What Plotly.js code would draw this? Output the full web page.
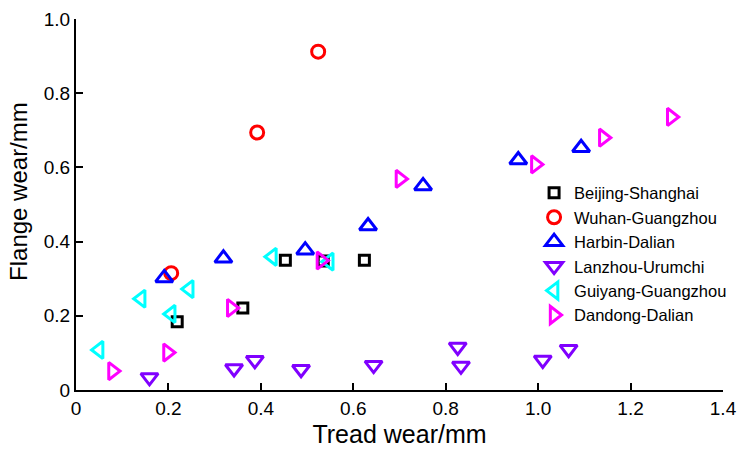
<!DOCTYPE html>
<html>
<head>
<meta charset="utf-8">
<script src="https://cdn.plot.ly/plotly-3.0.1.min.js"></script>
<style>html,body{margin:0;padding:0;background:#fff;}#chart{width:749px;height:449px;}</style>
</head>
<body>
<div id="chart"></div>
<script>
// Data
const beijingX = [0.219, 0.361, 0.453, 0.535, 0.624];
const beijingY = [0.184, 0.221, 0.350, 0.348, 0.350];
const wuhanX = [0.206, 0.392, 0.524];
const wuhanY = [0.315, 0.694, 0.912];
const harbinX = [0.191, 0.319, 0.496, 0.632, 0.751, 0.957, 1.093];
const harbinY = [0.302, 0.355, 0.377, 0.442, 0.550, 0.620, 0.653];
const lanzhouX = [0.159, 0.342, 0.387, 0.487, 0.644, 0.826, 0.833, 1.010, 1.066];
const lanzhouY = [0.034, 0.058, 0.080, 0.056, 0.067, 0.116, 0.065, 0.081, 0.110];
const guiyangX = [0.050, 0.141, 0.206, 0.245, 0.425, 0.548];
const guiyangY = [0.108, 0.246, 0.205, 0.272, 0.359, 0.346];
const dandongX = [0.079, 0.198, 0.336, 0.530, 0.701, 0.994, 1.141, 1.288];
const dandongY = [0.051, 0.101, 0.221, 0.349, 0.569, 0.608, 0.680, 0.736];

const xTicks = [0, 0.2, 0.4, 0.6, 0.8, 1.0, 1.2, 1.4];
const xTickText = ["0", "0.2", "0.4", "0.6", "0.8", "1.0", "1.2", "1.4"];
const yTicks = [0, 0.2, 0.4, 0.6, 0.8, 1.0];
const yTickText = ["0", "0.2", "0.4", "0.6", "0.8", "1.0"];

function mk(name, x, y, symbol, color, size) {
  return {
    type: 'scatter', mode: 'markers', name: name, x: x, y: y,
    marker: { symbol: symbol, size: size, color: color,
      line: { color: color, width: 3 } },
    cliponaxis: false
  };
}

const traces = [
  mk('Beijing-Shanghai', beijingX, beijingY, 'square-open', '#000000', 10),
  mk('Wuhan-Guangzhou', wuhanX, wuhanY, 'circle-open', '#ff0000', 13),
  mk('Harbin-Dalian', harbinX, harbinY, 'triangle-up-open', '#0000ff', 15),
  mk('Lanzhou-Urumchi', lanzhouX, lanzhouY, 'triangle-down-open', '#8000ff', 15),
  mk('Guiyang-Guangzhou', guiyangX, guiyangY, 'triangle-left-open', '#00ffff', 15),
  mk('Dandong-Dalian', dandongX, dandongY, 'triangle-right-open', '#ff00ff', 15)
];

const layout = {
  width: 749, height: 449,
  margin: { l: 76, r: 26, t: 19, b: 59 },
  paper_bgcolor: '#ffffff', plot_bgcolor: '#ffffff',
  font: { family: '"Liberation Sans", Arial, sans-serif', color: '#000', size: 19 },
  showlegend: true,
  legend: {
    x: 0.708, y: 0.578, xanchor: 'left', yanchor: 'top',
    bgcolor: 'rgba(0,0,0,0)', font: { size: 16.5, color: '#000' },
    tracegroupgap: 0, itemwidth: 30
  },
  xaxis: {
    range: [0, 1.4], tickvals: xTicks, ticktext: xTickText,
    showgrid: false, zeroline: false, showline: true, linecolor: '#000', linewidth: 2,
    ticks: 'inside', ticklen: 7, tickwidth: 2, tickcolor: '#000',
    tickfont: { size: 19 },
    title: { text: 'Tread wear/mm', font: { size: 25 }, standoff: 8 }
  },
  yaxis: {
    range: [0, 1.0], tickvals: yTicks, ticktext: yTickText,
    showgrid: false, zeroline: false, showline: true, linecolor: '#000', linewidth: 2,
    ticks: 'inside', ticklen: 7, tickwidth: 2, tickcolor: '#000',
    tickfont: { size: 19 }
  },
  annotations: [{
    text: 'Flange wear/mm', textangle: -90, showarrow: false,
    xref: 'paper', yref: 'paper', x: -0.088, y: 0.534,
    xanchor: 'center', yanchor: 'middle', font: { size: 24, color: '#000' }
  }]
};

Plotly.newPlot('chart', traces, layout, { displayModeBar: false, staticPlot: true });
</script>
</body>
</html>
